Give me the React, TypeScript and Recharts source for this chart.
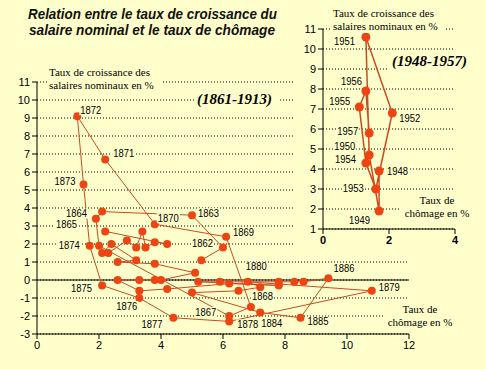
import React from 'react';
import { ScatterChart, Scatter, XAxis, YAxis, CartesianGrid, ReferenceLine } from 'recharts';

// ---------- data: 1861-1913 ----------
const mainYears = [
  1861, 1862, 1863, 1864, 1865, 1866, 1867, 1868, 1869, 1870,
  1871, 1872, 1873, 1874, 1875, 1876, 1877, 1878, 1879, 1880,
  1881, 1882, 1883, 1884, 1885, 1886, 1887, 1888, 1889, 1890,
  1891, 1892, 1893, 1894, 1895, 1896, 1897, 1898, 1899, 1900,
  1901, 1902, 1903, 1904, 1905, 1906, 1907, 1908, 1909, 1910,
  1911, 1912, 1913,
];
const mainUnemployment = [
  5.3, 6.0, 5.0, 2.1, 1.9, 2.0, 6.2, 6.9, 6.1, 3.8,
  2.2, 1.3, 1.5, 1.7, 2.1, 3.3, 4.4, 6.2, 10.8, 6.8,
  7.2, 6.5, 5.0, 7.2, 8.5, 9.4, 8.6, 8.3, 7.8, 5.9,
  5.2, 7.8, 6.2, 4.2, 3.3, 2.6, 3.3, 3.8, 4.0, 5.1,
  3.8, 2.6, 3.2, 2.4, 2.1, 2.3, 2.9, 3.2, 3.4, 3.5,
  3.8, 4.2, 2.2,
];
const mainWageGrowth = [
  1.1, 1.8, 3.6, 3.8, 3.4, 1.9, -2.0, -1.5, 2.4, 3.1,
  6.7, 9.1, 5.3, 1.9, -0.3, -1.0, -2.1, -2.3, -0.6, -0.1,
  -0.4, -0.6, -0.7, -1.8, -2.1, 0.1, -0.1, -0.1, -0.1, -0.1,
  -0.1, -0.3, -0.2, -0.5, -0.6, 0.0, 0.0, 0.0, 0.0, 0.4,
  0.9, 1.0, 1.1, 2.0, 1.5, 1.5, 2.2, 1.8, 2.7, 1.8,
  2.1, 2.0, 2.7,
];
const mainLabeledYears = [
  1862, 1863, 1864, 1865, 1867, 1868, 1869, 1870, 1871, 1872, 1873,
  1874, 1875, 1876, 1877, 1878, 1879, 1880, 1884, 1885, 1886,
];

// ---------- data: 1948-1957 ----------
const insetYears = [1948, 1949, 1950, 1951, 1952, 1953, 1954, 1955, 1956, 1957];
const insetUnemployment = [1.7, 1.7, 1.4, 1.3, 2.1, 1.6, 1.3, 1.1, 1.3, 1.4];
const insetWageGrowth = [3.9, 1.9, 4.7, 10.6, 6.8, 3.0, 4.3, 7.1, 7.9, 5.8];

// ---------- axis ticks ----------
const mainXTicks = [0, 2, 4, 6, 8, 10, 12];
const mainYTicks = [-3, -2, -1, 0, 1, 2, 3, 4, 5, 6, 7, 8, 9, 10, 11];
const insetXTicks = [0, 2, 4];
const insetYTicks = [1, 2, 3, 4, 5, 6, 7, 8, 9, 10, 11];

// ---------- label placement (style, relative to each point) ----------
type Place = ['start' | 'end', number, number];
const mainLabelPlace: Record<number, Place> = {
  1872: ['start', 3, -6], 1871: ['start', 8, -6], 1873: ['end', -8, -3],
  1864: ['end', -15, 2], 1865: ['end', -19, 6], 1874: ['end', -10, 0],
  1870: ['start', 3, -6], 1863: ['start', 6, -2], 1869: ['start', 7, -4],
  1862: ['end', -10, -4], 1880: ['start', -2, -15], 1886: ['start', 5, -10],
  1879: ['start', 7, -3], 1868: ['start', 1, -11], 1867: ['end', -13, -4],
  1878: ['start', 8, 3], 1884: ['start', 1, 11], 1885: ['start', 7, 4],
  1877: ['end', -11, 7], 1876: ['end', -2, 8], 1875: ['end', -10, 3],
};
const insetLabelPlace: Record<number, Place> = {
  1951: ['end', -11, 4], 1956: ['end', -4, -10], 1955: ['end', -9, -6],
  1952: ['start', 7, 5], 1957: ['end', -11, -2], 1950: ['end', -14, -9],
  1954: ['end', -10, -4], 1948: ['start', 8, 0], 1953: ['end', -12, -1],
  1949: ['end', -9, 9],
};

const BG = '#ffffcc';
const DOT = '#ee4412';
const LINE = '#cc4a22';
const SANS = '"Liberation Sans", Arial, sans-serif';
const SERIF = '"Liberation Serif", "Times New Roman", serif';

const mainData = mainYears.map((year, i) => ({ year, x: mainUnemployment[i], y: mainWageGrowth[i] }));
const mainLabelData = mainData.filter((d) => mainLabeledYears.includes(d.year));
const insetData = insetYears.map((year, i) => ({ year, x: insetUnemployment[i], y: insetWageGrowth[i] }));

const makeDot = (r: number) => (props: any) => (
  <circle cx={props.cx} cy={props.cy} r={r} fill={DOT} stroke="none" />
);

const makeLabel = (place: Record<number, Place>) => (props: any) => {
  const { cx, cy, payload } = props;
  const p = place[payload.year];
  if (!p || cx == null) return <g />;
  const [anchor, dx, dy] = p;
  const w = 21;
  const x0 = anchor === 'start' ? cx + dx : cx + dx - w;
  const yc = cy + dy;
  return (
    <g>
      <rect x={x0 - 1} y={yc - 5} width={w + 2} height={10} fill={BG} />
      <text x={x0} y={yc + 3.5} fontSize={10} fontFamily={SANS} fill="#000" textLength={w} lengthAdjust="spacingAndGlyphs">
        {payload.year}
      </text>
    </g>
  );
};

const tickStyle = { fill: '#000', fontSize: 11, fontFamily: SANS };

function BgText({ x, y, w, h, lines, size, family, weight, italic, anchor, lineGap, tx, ty }: any) {
  return (
    <g>
      <rect x={x} y={y} width={w} height={h} fill={BG} />
      {lines.map((l: string, i: number) => (
        <text
          key={i}
          x={tx}
          y={ty + i * lineGap}
          fontSize={size}
          fontFamily={family}
          fontWeight={weight || 'normal'}
          fontStyle={italic ? 'italic' : 'normal'}
          textAnchor={anchor || 'start'}
          fill="#000"
        >
          {l}
        </text>
      ))}
    </g>
  );
}

export default function App() {
  return (
    <div style={{ position: 'fixed', left: 0, top: 0, width: 486, height: 369, background: BG, overflow: 'hidden' }}>
      <div style={{ position: 'absolute', left: 0, top: 0 }}>
        <ScatterChart width={486} height={369} margin={{ top: 82, right: 77, bottom: 15, left: 7 }}>
          <CartesianGrid vertical={false} stroke="#000" strokeDasharray="1 2" />
          <XAxis
            type="number"
            dataKey="x"
            domain={[0, 12]}
            ticks={mainXTicks}
            height={20}
            tickSize={5}
            axisLine={{ stroke: '#000' }}
            tickLine={{ stroke: '#000' }}
            tick={tickStyle}
            interval={0}
            allowDataOverflow
          />
          <YAxis
            type="number"
            dataKey="y"
            domain={[-3, 11]}
            ticks={mainYTicks}
            width={30}
            tickSize={5}
            axisLine={{ stroke: '#000' }}
            tickLine={{ stroke: '#000' }}
            tick={tickStyle}
            interval={0}
            allowDataOverflow
          />
          <ReferenceLine y={0} stroke="#000" strokeWidth={1} />
          <Scatter
            data={mainData}
            line={{ stroke: LINE, strokeWidth: 1 }}
            lineType="joint"
            shape={makeDot(4)}
            isAnimationActive={false}
          />
          <Scatter data={mainLabelData} shape={makeLabel(mainLabelPlace)} isAnimationActive={false} />
        </ScatterChart>
      </div>

      <svg style={{ position: 'absolute', left: 0, top: 0 }} width={486} height={369}>
        <text x={28} y={19} fontSize={14} fontFamily={SANS} fontWeight="bold" fontStyle="italic" fill="#111" textLength={249} lengthAdjust="spacingAndGlyphs">
          Relation entre le taux de croissance du
        </text>
        <text x={29} y={35} fontSize={14} fontFamily={SANS} fontWeight="bold" fontStyle="italic" fill="#111" textLength={246} lengthAdjust="spacingAndGlyphs">
          salaire nominal et le taux de chômage
        </text>
        <BgText x={47} y={66} w={114} h={26} lines={['Taux de croissance des', 'salaires nominaux en %']} size={11} family={SERIF} tx={49} ty={76} lineGap={12.5} />
        <BgText x={194} y={91} w={84} h={16} lines={['(1861-1913)']} size={15} family={SERIF} weight="bold" italic tx={197} ty={104} lineGap={0} />
        <BgText x={384} y={304} w={72} h={26} lines={['Taux de', 'chômage en %']} size={11} family={SERIF} anchor="middle" tx={420} ty={313} lineGap={12.5} />
      </svg>

      <div style={{ position: 'absolute', left: 293, top: 0, width: 193, height: 252, background: BG }}>
        <ScatterChart width={193} height={252} margin={{ top: 29, right: 31, bottom: 3, left: 0 }}>
          <CartesianGrid vertical={false} stroke="#000" strokeDasharray="1 2" />
          <XAxis
            type="number"
            dataKey="x"
            domain={[0, 4]}
            ticks={insetXTicks}
            height={20}
            tickSize={5}
            axisLine={{ stroke: '#000' }}
            tickLine={{ stroke: '#000' }}
            tick={{ ...tickStyle, fontWeight: 'bold' }}
            interval={0}
            allowDataOverflow
          />
          <YAxis
            type="number"
            dataKey="y"
            domain={[1, 11]}
            ticks={insetYTicks}
            width={30}
            tickSize={5}
            axisLine={{ stroke: '#000' }}
            tickLine={{ stroke: '#000' }}
            tick={tickStyle}
            interval={0}
            allowDataOverflow
          />
          <Scatter
            data={insetData}
            line={{ stroke: LINE, strokeWidth: 1.5 }}
            lineType="joint"
            shape={makeDot(4.5)}
            isAnimationActive={false}
          />
          <Scatter data={insetData} shape={makeLabel(insetLabelPlace)} isAnimationActive={false} />
        </ScatterChart>
      </div>

      <svg style={{ position: 'absolute', left: 0, top: 0 }} width={486} height={369}>
        <BgText x={331} y={8} w={113} h={25} lines={['Taux de croissance des', 'salaires nominaux en %']} size={11} family={SERIF} tx={333} ty={17} lineGap={12.5} />
        <BgText x={389} y={53} w={82} h={17} lines={['(1948-1957)']} size={15} family={SERIF} weight="bold" italic tx={392} ty={66} lineGap={0} />
        <BgText x={401} y={195} w={73} h={26} lines={['Taux de', 'chômage en %']} size={11} family={SERIF} anchor="middle" tx={437} ty={204} lineGap={12.5} />
      </svg>
    </div>
  );
}
